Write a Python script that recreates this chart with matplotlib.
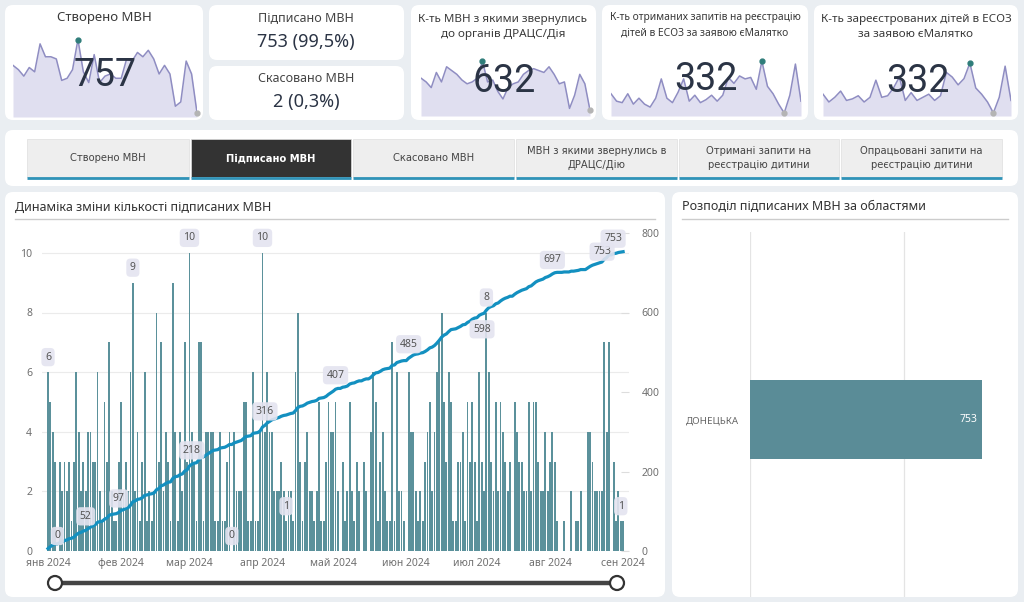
import numpy as np
import pandas as pd
import matplotlib
matplotlib.use("Agg")
import matplotlib.pyplot as plt
import matplotlib.dates as mdates
from matplotlib.patches import FancyBboxPatch, Rectangle, Circle

W, H = 1024, 602
plt.rcParams['font.family'] = ['Noto Sans', 'DejaVu Sans']

# --- data -------------------------------------------------------------
# signed MVN per day, 1 Jan 2024 .. 1 Sep 2024
jan = [6,5,4,3,0,3,2,3,2,3,1,3,6,4,2,3,2,4,4,3,3,6,2,1,5,3,7,2,1,1,3]
feb = [5,2,3,2,6,9,2,4,1,3,6,1,2,1,2,8,3,7,2,4,3,1,9,4,1,4,2,7,3]
mar = [10,4,3,1,7,7,1,4,4,4,4,1,1,4,1,1,3,4,0,4,2,2,2,5,5,1,1,6,1,1,4]
apr = [10,4,6,4,4,2,2,2,3,2,1,2,2,1,6,8,3,1,3,4,2,2,1,2,5,1,1,3,5,4]
may = [4,5,2,0,3,1,2,5,2,1,3,2,0,3,2,0,4,6,5,1,3,4,2,1,1,7,1,6,2,2,1]
jun = [0,6,4,4,2,1,2,1,3,4,5,2,4,6,7,8,5,3,6,5,1,1,3,3,4,1,5,3,5,3]
jul = [1,6,3,2,8,6,3,2,5,2,5,4,3,2,3,0,5,4,3,3,2,2,5,2,5,5,3,2,2,4,2]
aug = [3,4,3,1,0,0,1,0,0,2,0,1,1,2,0,0,4,4,3,2,2,2,2,7,4,7,0,3,1,2,1]
sep = [1]
daily = np.array(jan + feb + mar + apr + may + jun + jul + aug + sep)
cum = np.cumsum(daily)

month_labels = ["янв 2024", "фев 2024", "мар 2024", "апр 2024", "май 2024",
                "июн 2024", "июл 2024", "авг 2024", "сен 2024"]
bar_label_idx = [0, 4, 36, 60, 78, 91, 101, 186, 243]
line_label_idx = [16, 30, 61, 92, 122, 153, 185, 214, 244]

regions = ["ДОНЕЦЬКА"]
region_vals = [753]

# weekly sparklines for the KPI cards
spark_created = [24,22,19,23,21,34,28,28,27,17,18,22,36,21,16,29,16,19,20,18,18,27,26,30,28,31,27,20,24,20,5,7,26,20,2]
spark_drasc = [20,18,15,23,18,26,24,22,19,17,18,20,29,18,19,13,9,15,17,18,22,24,25,24,23,26,22,17,18,4,11,22,17,3]
spark_req = [15,10,9,15,8,12,8,6,12,25,12,9,16,25,10,14,9,11,14,10,14,26,22,27,25,26,18,37,20,15,8,2,14,35,10]
spark_reg = [14,9,12,16,10,11,13,9,12,23,12,13,18,25,10,15,10,12,14,10,13,28,25,20,24,34,18,14,9,2,12,32,10]

tabs = ["Створено МВН", "Підписано МВН", "Скасовано МВН",
        "МВН з якими звернулись в\nДРАЦС/Дію", "Отримані запити на\nреєстрацію дитини",
        "Опрацьовані запити на\nреєстрацію дитини"]
selected_tab = 1

# --- figure helpers ---------------------------------------------------
fig = plt.figure(figsize=(W / 100, H / 100), dpi=100)
fig.patch.set_facecolor('#eaeef2')
bg = fig.add_axes([0, 0, 1, 1])
bg.set_xlim(0, W)
bg.set_ylim(H, 0)
bg.axis('off')


def card(x0, y0, x1, y1, fc='white', r=8):
    bg.add_patch(FancyBboxPatch((x0, y0), x1 - x0, y1 - y0,
                                boxstyle=f"round,pad=0,rounding_size={r}", fc=fc, ec='none'))


def px_axes(x0, y0, x1, y1):
    a = fig.add_axes([x0 / W, 1 - y1 / H, (x1 - x0) / W, (y1 - y0) / H])
    a.set_facecolor('none')
    return a


def ftext(x, y, s, **kw):
    kw.setdefault('ha', 'center')
    kw.setdefault('va', 'center')
    return fig.text(x / W, 1 - y / H, s, **kw)


def spark(vals, x0, y0, x1, y1):
    a = px_axes(x0, y0, x1, y1)
    x = np.arange(len(vals))
    a.fill_between(x, vals, 0, color='#e0dff0', lw=0)
    a.plot(x, vals, color='#8f8dc2', lw=1.1)
    imax, imin = int(np.argmax(vals)), int(np.argmin(vals))
    a.plot(imax, vals[imax], 'o', ms=3.5, color='#2f7d7a', clip_on=False)
    a.plot(imin, vals[imin], 'o', ms=3.5, color='#b4b4b4', clip_on=False)
    a.set_xlim(0, len(vals) - 1)
    a.set_ylim(0, max(vals) * 1.02)
    a.axis('off')


# --- KPI cards --------------------------------------------------------
for c in [(5, 5, 203, 120), (209, 5, 404, 60), (209, 66, 404, 120),
          (411, 5, 596, 120), (602, 5, 808, 120), (814, 5, 1018, 120),
          (5, 130, 1018, 186), (5, 192, 665, 597), (672, 192, 1018, 597)]:
    card(*c)

spark(spark_created, 13, 38, 197, 117)
spark(spark_drasc, 421, 60, 590, 116)
spark(spark_req, 611, 60, 801, 116)
spark(spark_reg, 823, 62, 1011, 116)

title_c = '#3a3a3a'
num_c = '#2b3445'
big = dict(fontsize=27, color=num_c, family=['Roboto', 'DejaVu Sans'], fontweight='normal')
ftext(104, 17, "Створено МВН", fontsize=9.5, color=title_c)
ftext(105, 76, str(int(daily.sum()) + 4), **big)
ftext(306, 18, "Підписано МВН", fontsize=9, color='#444')
ftext(306, 42, f"{int(daily.sum())} (99,5%)", fontsize=13, color=num_c)
ftext(306, 78, "Скасовано МВН", fontsize=9, color='#444')
ftext(306, 102, "2 (0,3%)", fontsize=13, color=num_c)
ftext(503, 27, "К-ть МВН з якими звернулись\nдо органів ДРАЦС/Дія", fontsize=8.4, color=title_c, linespacing=1.55)
ftext(504, 82, "632", **big)
ftext(705, 25, "К-ть отриманих запитів на реєстрацію\nдітей в ЕСОЗ за заявою єМалятко", fontsize=7.4, color=title_c, linespacing=1.55)
ftext(706, 80, "332", **big)
ftext(916, 27, "К-ть зареєстрованих дітей в ЕСОЗ\nза заявою єМалятко", fontsize=8.4, color=title_c, linespacing=1.55)
ftext(918, 82, "332", **big)

# --- tab buttons ------------------------------------------------------
tab_x = [(27, 189), (191, 351), (353, 514), (516, 677), (679, 839), (841, 1002)]
for i, (lab, (x0, x1)) in enumerate(zip(tabs, tab_x)):
    sel = i == selected_tab
    bg.add_patch(Rectangle((x0, 139), x1 - x0, 38, fc='#333333' if sel else '#eeeeee',
                           ec='#dedede', lw=0.5))
    bg.plot([x0, x1], [177.5, 177.5], color='#2f93b8', lw=2, solid_capstyle='butt')
    ftext((x0 + x1) / 2, 158, lab, fontsize=7.2, linespacing=1.5,
          color='white' if sel else '#444', fontweight='bold' if sel else 'normal',
          family=['Liberation Sans Narrow', 'DejaVu Sans'])

# --- main chart -------------------------------------------------------
ftext(15, 207, "Динаміка зміни кількості підписаних МВН", fontsize=9, color='#333',
      fontweight='semibold', ha='left')
bg.plot([15, 655], [219, 219], color='#cccccc', lw=1)
ftext(682, 207, "Розподіл підписаних МВН за областями", fontsize=9, color='#333',
      fontweight='semibold', ha='left')
bg.plot([682, 1008], [219, 219], color='#cccccc', lw=1)

dates = pd.date_range('2024-01-01', periods=len(daily))
xd = mdates.date2num(dates)
ax = px_axes(42, 233, 629, 551)
ax.bar(xd, daily, width=0.78, color='#5b919b', zorder=2)
ax.set_xlim(xd[0] - 2.55, xd[-1] + 2.5)
ax.set_ylim(0, 800 / 75)
ax.set_yticks([0, 2, 4, 6, 8, 10])
ax.yaxis.grid(True, color='#ebebeb', lw=0.8)
ax.set_axisbelow(True)
month_starts = mdates.date2num(pd.date_range('2024-01-01', '2024-09-01', freq='MS'))
ax.set_xticks(month_starts)
ax.set_xticklabels(month_labels)
ax.tick_params(axis='both', length=0, labelsize=7.5, labelcolor='#707070')
ax.tick_params(axis='x', pad=5)
ax.tick_params(axis='y', pad=7)
for s in ax.spines.values():
    s.set_visible(False)

ax2 = ax.twinx()
ax2.set_facecolor('none')
ax2.plot(xd, cum, color='#1390c0', lw=2.3, zorder=3)
ax2.set_ylim(0, 800)
ax2.set_yticks([0, 200, 400, 600, 800])
ax2.tick_params(axis='y', direction='in', length=6, color='#dddddd', labelsize=7.5,
                labelcolor='#707070', pad=9)
for s in ax2.spines.values():
    s.set_visible(False)

lbl = dict(textcoords='offset pixels', ha='center', va='center', fontsize=7.5, color='#555',
           bbox=dict(boxstyle='round,pad=0.35,rounding_size=0.4', fc='#e4e4f0', ec='none', alpha=0.9),
           zorder=6, annotation_clip=False)
for i in bar_label_idx:
    ax2.annotate(str(daily[i]), (xd[i], daily[i]), xycoords=ax.transData, xytext=(0, 15), **lbl)
for i in line_label_idx:
    off = (0, 14)
    if cum[i] == 598:
        off = (-2, -16)
    if i == line_label_idx[-1]:
        off = (-21, 0)
    ax2.annotate(str(cum[i]), (xd[i], cum[i]), xytext=off, **lbl)
ax2.annotate(str(cum[-1]), (xd[-1], cum[-1]), xytext=(-10, 13), **lbl)

# range slider under the chart
bg.plot([55, 617], [583, 583], color='#444444', lw=3.2, solid_capstyle='butt')
for cx in (55, 617):
    bg.add_patch(Circle((cx, 583), 7, fc='white', ec='#333333', lw=1.6, zorder=5))

# --- region bar chart -------------------------------------------------
axr = px_axes(750, 232, 1008, 597)
axr.barh(range(len(regions)), region_vals, height=0.6, color='#5a8c97', zorder=2)
axr.set_xlim(0, 837)
axr.set_ylim(-1.34, 1.42)
axr.set_xticks([0, 500])
axr.xaxis.grid(True, color='#e4e4e4', lw=0.9)
axr.set_axisbelow(True)
axr.set_yticks(range(len(regions)))
axr.set_yticklabels(regions)
axr.tick_params(axis='x', length=0, labelbottom=False)
axr.tick_params(axis='y', length=0, labelsize=7, labelcolor='#666', pad=8)
for s in axr.spines.values():
    s.set_visible(False)
for k, v in enumerate(region_vals):
    axr.annotate(str(v), (v, k), xytext=(-5, 0), textcoords='offset pixels', ha='right',
                 va='center', fontsize=7.5, color='white', fontweight='bold')

fig.savefig('out.png', dpi=100, facecolor=fig.get_facecolor())
